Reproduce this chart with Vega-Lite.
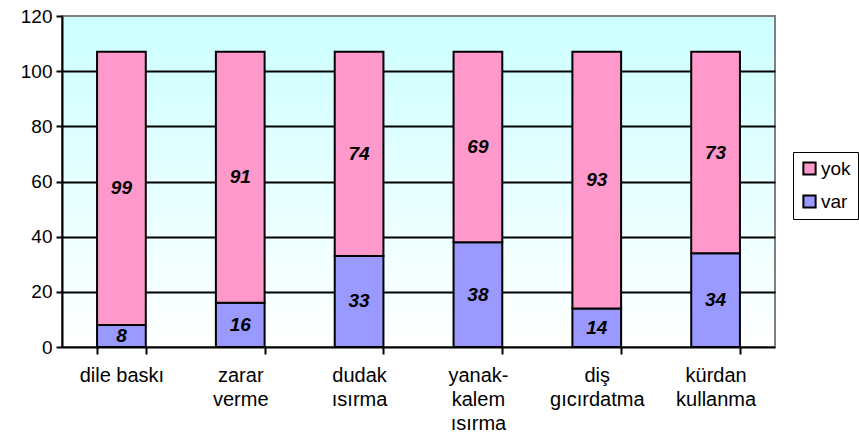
{
  "$schema": "https://vega.github.io/schema/vega-lite/v6.json",
  "width": 713,
  "height": 331,
  "autosize": {"type": "none"},
  "padding": {"left": 62, "top": 16, "right": 84, "bottom": 97},
  "background": "white",
  "config": {
    "font": "Liberation Sans",
    "view": {
      "stroke": "#808080",
      "strokeWidth": 2,
      "fill": {
        "gradient": "linear",
        "x1": 0, "y1": 0, "x2": 0, "y2": 1,
        "stops": [
          {"offset": 0, "color": "#CCFFFF"},
          {"offset": 1, "color": "#FFFFFF"}
        ]
      }
    }
  },
  "data": {
    "values": [
      {"kategori": "dile baskı", "grup": "var", "deger": 8},
      {"kategori": "dile baskı", "grup": "yok", "deger": 99},
      {"kategori": "zarar verme", "grup": "var", "deger": 16},
      {"kategori": "zarar verme", "grup": "yok", "deger": 91},
      {"kategori": "dudak ısırma", "grup": "var", "deger": 33},
      {"kategori": "dudak ısırma", "grup": "yok", "deger": 74},
      {"kategori": "yanak-kalem ısırma", "grup": "var", "deger": 38},
      {"kategori": "yanak-kalem ısırma", "grup": "yok", "deger": 69},
      {"kategori": "diş gıcırdatma", "grup": "var", "deger": 14},
      {"kategori": "diş gıcırdatma", "grup": "yok", "deger": 93},
      {"kategori": "kürdan kullanma", "grup": "var", "deger": 34},
      {"kategori": "kürdan kullanma", "grup": "yok", "deger": 73}
    ]
  },
  "transform": [
    {"stack": "deger", "groupby": ["kategori"], "sort": [{"field": "grup", "order": "ascending"}], "as": ["v0", "v1"]},
    {"calculate": "(datum.v0 + datum.v1) / 2", "as": "orta"}
  ],
  "encoding": {
    "x": {
      "field": "kategori",
      "type": "nominal",
      "sort": null,
      "scale": {"paddingInner": 0.59, "paddingOuter": 0.295},
      "axis": {
        "title": null,
        "labelAngle": 0,
        "labelFontSize": 20,
        "labelColor": "black",
        "labelPadding": 11,
        "labelLineHeight": 24,
        "labelBaseline": "top",
        "tickBand": "extent",
        "tickColor": "black",
        "tickWidth": 2,
        "tickSize": 7,
        "domainColor": "black",
        "domainWidth": 2,
        "labelExpr": "datum.value == 'zarar verme' ? ['zarar', 'verme'] : datum.value == 'dudak ısırma' ? ['dudak', 'ısırma'] : datum.value == 'yanak-kalem ısırma' ? ['yanak-', 'kalem', 'ısırma'] : datum.value == 'diş gıcırdatma' ? ['diş', 'gıcırdatma'] : datum.value == 'kürdan kullanma' ? ['kürdan', 'kullanma'] : datum.value"
      }
    }
  },
  "layer": [
    {
      "mark": {"type": "bar", "stroke": "black", "strokeWidth": 2},
      "encoding": {
        "y": {
          "field": "v0",
          "type": "quantitative",
          "scale": {"domain": [0, 120]},
          "axis": {
            "title": null,
            "values": [0, 20, 40, 60, 80, 100, 120],
            "labelFontSize": 19,
            "labelColor": "black",
            "labelPadding": 4,
            "tickColor": "black",
            "tickWidth": 2,
            "tickSize": 6,
            "domainColor": "black",
            "domainWidth": 2,
            "grid": true,
            "gridColor": {"condition": {"test": "datum.value == 120 || datum.value == 0", "value": "transparent"}, "value": "black"},
            "gridWidth": 2,
            "gridOpacity": 1
          }
        },
        "y2": {"field": "v1"},
        "color": {
          "field": "grup",
          "type": "nominal",
          "scale": {"domain": ["yok", "var"], "range": ["#FF99CC", "#9999FF"]},
          "legend": {
            "title": null,
            "orient": "none",
            "legendX": 731,
            "legendY": 136,
            "symbolType": "square",
            "symbolSize": 150,
            "symbolStrokeColor": "black",
            "symbolStrokeWidth": 2,
            "symbolOpacity": 1,
            "labelFontSize": 19,
            "labelColor": "black",
            "labelOffset": 2,
            "rowPadding": 12,
            "padding": 7,
            "strokeColor": "black",
            "fillColor": "white"
          }
        }
      }
    },
    {
      "mark": {"type": "text", "fontSize": 19, "fontWeight": "bold", "fontStyle": "italic", "color": "black", "baseline": "middle"},
      "encoding": {
        "y": {"field": "orta", "type": "quantitative"},
        "text": {"field": "deger", "type": "quantitative"}
      }
    }
  ]
}
